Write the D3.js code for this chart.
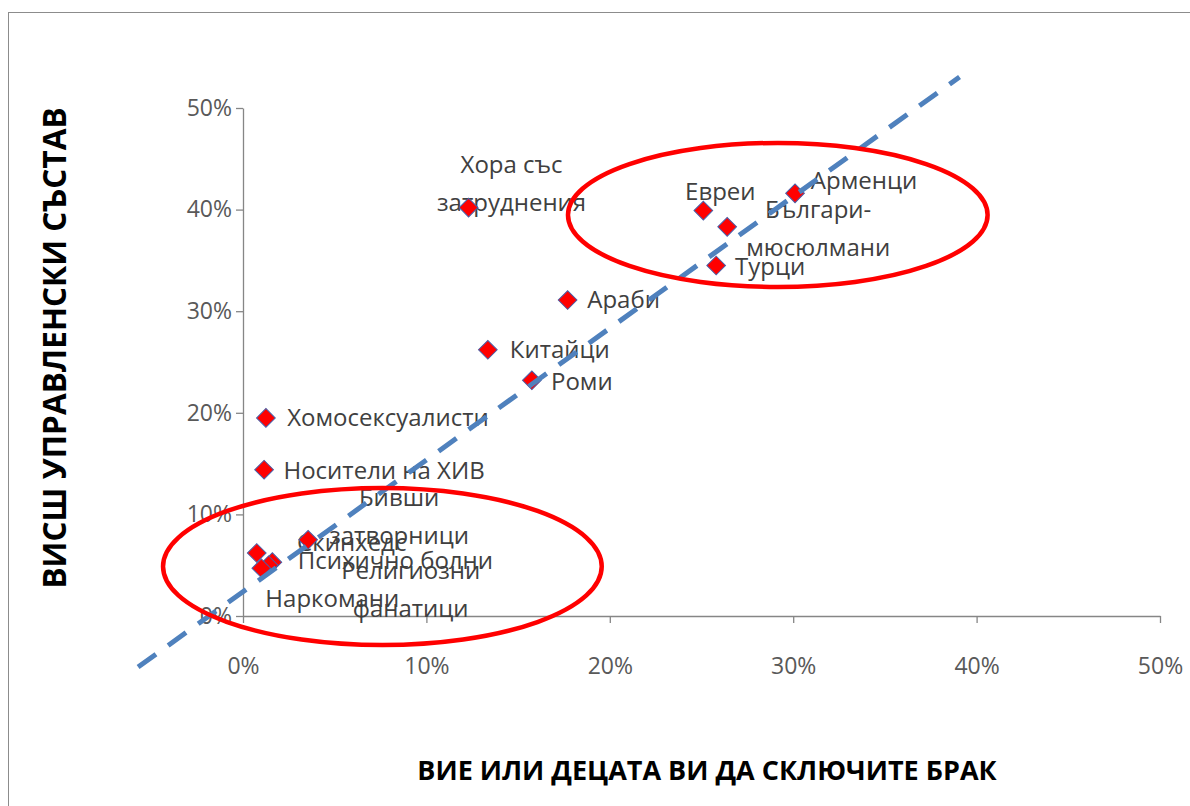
<!DOCTYPE html>
<html>
<head>
<meta charset="utf-8">
<script src="https://cdn.jsdelivr.net/npm/d3@7/dist/d3.min.js"></script>
<style>
	body { margin: 0; background: #fff; }
	svg text { font-family: "Open Sans", "DejaVu Sans", sans-serif; }
</style>
</head>
<body>
<div id="chart"></div>
<script>
// groups (label text, \n = line break)
var groups = ["Хора със\nзатруднения", "Евреи", "Българи-\nмюсюлмани", "Арменци", "Турци",
	"Араби", "Китайци", "Роми", "Хомосексуалисти", "Носители на ХИВ",
	"Бивши\nзатворници", "Скинхедс", "Психично болни", "Религиозни\nфанатици", "Наркомани"];
// x: вие или децата ви да сключите брак
var marriage = [0.123, 0.251, 0.264, 0.301, 0.258, 0.177, 0.1335, 0.1575, 0.0125, 0.0115, 0.0355, 0.0075, 0.016, 0.014, 0.010];
// y: висш управленски състав
var management = [0.402, 0.399, 0.383, 0.416, 0.345, 0.311, 0.262, 0.232, 0.195, 0.144, 0.075, 0.062, 0.053, 0.050, 0.047];
var ticks = [0, 0.1, 0.2, 0.3, 0.4, 0.5];

// trend line ends
var trendX = [-0.0572, 0.3907];
var trendY = [-0.0502, 0.5305];

// the two red ovals [cx, cy, rx, ry] in data units
var ovals = [[0.2916, 0.3947, 0.1144, 0.0709], [0.0760, 0.0487, 0.1196, 0.0773]];

// label offsets from the marker, px (centre of first line)
var labelOffsets = [[43, -43], [17, -19], [91, -17], [69, -13], [54, 1],
	[56, 0], [72, 0], [50, 1], [122, 0], [120, 1],
	[91, -42], [95, -10], [123, -2], [142, 5], [71, 30]];

var width = 1190, height = 806;
var svg = d3.select("#chart").append("svg")
	.attr("width", width)
	.attr("height", height);

// outer frame (right and bottom edges fall outside the picture)
svg.append("rect")
	.attr("x", 8.5).attr("y", 12.5)
	.attr("width", 1200).attr("height", 820)
	.attr("fill", "none")
	.attr("stroke", "#8c8c8c");

var x = d3.scaleLinear().domain([0, 0.5]).range([243, 1160]);
var y = d3.scaleLinear().domain([0, 0.5]).range([616, 108]);

//axes
var xAxis = svg.append("g")
	.attr("transform", "translate(0,616)")
	.call(d3.axisBottom(x).tickValues(ticks).tickFormat(d3.format(".0%")).tickSize(7).tickPadding(35).tickSizeOuter(0));
var yAxis = svg.append("g")
	.attr("transform", "translate(243,0)")
	.call(d3.axisLeft(y).tickValues(ticks).tickFormat(d3.format(".0%")).tickSize(7).tickPadding(4).tickSizeOuter(0));

[xAxis, yAxis].forEach(function(g) {
	g.select(".domain").attr("stroke", "#868686").attr("stroke-width", 1.3);
	g.selectAll(".tick line").attr("stroke", "#868686").attr("stroke-width", 1.3);
	g.selectAll(".tick text")
		.attr("fill", "#595959")
		.style("font-size", "23px")
		.style("font-family", "\"Open Sans\", sans-serif");
});

//axis titles
svg.append("text")
	.attr("x", 707).attr("y", 780)
	.attr("text-anchor", "middle")
	.attr("font-weight", "bold")
	.attr("font-size", "27px")
	.attr("fill", "#000")
	.text("ВИЕ ИЛИ ДЕЦАТА ВИ ДА СКЛЮЧИТЕ БРАК");

svg.append("text")
	.attr("transform", "translate(66,348) rotate(-90)")
	.attr("text-anchor", "middle")
	.attr("font-weight", "bold")
	.attr("font-size", "31.5px")
	.attr("fill", "#000")
	.text("ВИСШ УПРАВЛЕНСКИ СЪСТАВ");

//data labels
var labels = svg.append("g").selectAll("text")
	.data(groups)
	.enter()
	.append("text")
	.attr("text-anchor", "middle")
	.attr("font-size", "24px")
	.attr("fill", "#404040")
	.attr("transform", function(d, i) {
		return "translate(" + (x(marriage[i]) + labelOffsets[i][0]) + "," + (y(management[i]) + labelOffsets[i][1]) + ")";
	});
labels.each(function(d) {
	var lines = d.split("\n");
	var t = d3.select(this);
	lines.forEach(function(line, k) {
		t.append("tspan")
			.attr("x", 0)
			.attr("y", k * 38)
			.attr("dy", "0.35em")
			.text(line);
	});
});

//markers
svg.append("g").selectAll("path")
	.data(groups)
	.enter()
	.append("path")
	.attr("d", d3.symbol(d3.symbolSquare, 175))
	.attr("transform", function(d, i) {
		return "translate(" + x(marriage[i]) + "," + y(management[i]) + ") rotate(45)";
	})
	.attr("fill", "#ff0000")
	.attr("stroke", "#4a5fa8")
	.attr("stroke-width", 1);

//trend line
svg.append("path")
	.datum(trendX)
	.attr("d", d3.line()
		.x(function(d) { return x(d); })
		.y(function(d, i) { return y(trendY[i]); }))
	.attr("fill", "none")
	.attr("stroke", "#4f81bd")
	.attr("stroke-width", 5)
	.attr("stroke-dasharray", "22,15");

//ovals
svg.append("g").selectAll("ellipse")
	.data(ovals)
	.enter()
	.append("ellipse")
	.attr("cx", function(d) { return x(d[0]); })
	.attr("cy", function(d) { return y(d[1]); })
	.attr("rx", function(d) { return x(d[2]) - x(0); })
	.attr("ry", function(d) { return y(0) - y(d[3]); })
	.attr("fill", "none")
	.attr("stroke", "#ff0000")
	.attr("stroke-width", 4.5);
</script>
</body>
</html>
